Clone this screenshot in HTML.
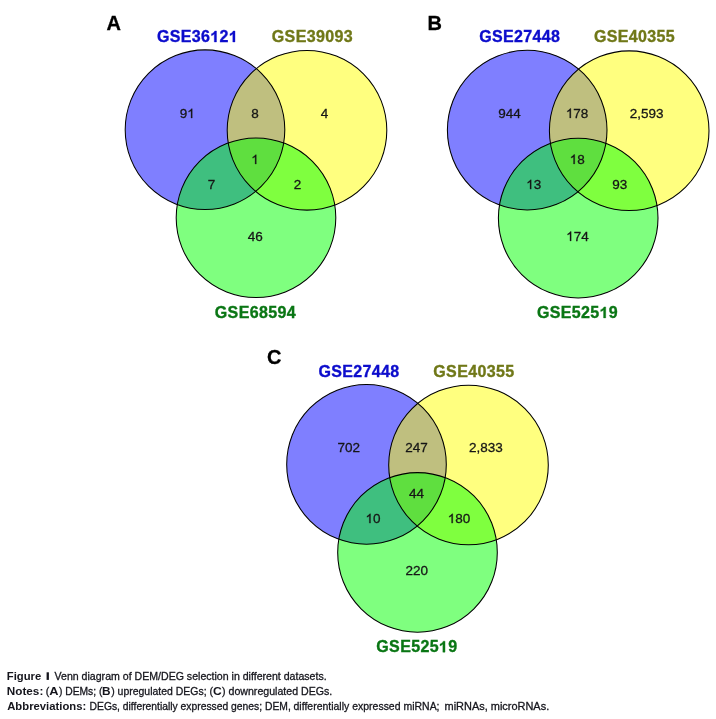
<!DOCTYPE html>
<html><head><meta charset="utf-8">
<style>
html,body{margin:0;padding:0;background:#fff;}
body{width:716px;height:719px;overflow:hidden;position:relative;}
svg{position:absolute;left:0;top:0;will-change:transform;}
text{font-family:"Liberation Sans",sans-serif;}
.n{letter-spacing:0.0px;font-size:13.5px;fill:#161616;stroke:#161616;stroke-width:0.3px;text-anchor:middle;}
.l{font-size:16px;font-weight:bold;text-anchor:middle;stroke-width:0.35px;letter-spacing:0.35px;}
.let{font-size:20px;font-weight:bold;fill:#000;stroke:#000;stroke-width:0.3px;}
.cr,.cb{font-size:11px;fill:#15151c;}
.cr{stroke:#15151c;stroke-width:0.3px;}
.cb{font-weight:bold;}
</style></head><body>
<svg width="716" height="719" viewBox="0 0 716 719">
<circle cx="205" cy="129.7" r="79.8" fill="#0000ff" fill-opacity="0.5"/>
<circle cx="307" cy="130.3" r="79.8" fill="#ffff00" fill-opacity="0.5"/>
<circle cx="256" cy="217.7" r="79.8" fill="#00ff00" fill-opacity="0.5"/>
<circle cx="205" cy="129.7" r="79.8" fill="none" stroke="#000" stroke-width="1.05"/>
<circle cx="307" cy="130.3" r="79.8" fill="none" stroke="#000" stroke-width="1.05"/>
<circle cx="256" cy="217.7" r="79.8" fill="none" stroke="#000" stroke-width="1.05"/>
<text x="187.2" y="118" class="n">9 </text>
<path d="M763 0H583V1098Q518 1038 412.5 979T223 890V1057Q373 1125 485.5 1221T645 1409H763Z" transform="translate(187.2 118) scale(0.00659 -0.00659)" fill="#161616" stroke="#161616" stroke-width="45.51"/>
<text x="254.9" y="118" class="n">8</text>
<text x="324.5" y="118" class="n">4</text>
<text x="255" y="164" class="n"> </text>
<path d="M763 0H583V1098Q518 1038 412.5 979T223 890V1057Q373 1125 485.5 1221T645 1409H763Z" transform="translate(251.25 164) scale(0.00659 -0.00659)" fill="#161616" stroke="#161616" stroke-width="45.51"/>
<text x="211.5" y="189.2" class="n">7</text>
<text x="297.5" y="189.2" class="n">2</text>
<text x="255.2" y="241" class="n">46</text>
<text x="197.58" y="42" class="l" fill="#0c0ccc" stroke="#0c0ccc">GSE36 2 </text>
<path d="M806 0H526V1014Q372 876 163 809V1053Q273 1088 402 1184T579 1409H806Z" transform="translate(210.2 42) scale(0.00781 -0.00781)" fill="#0c0ccc" stroke="#0c0ccc" stroke-width="44.8"/>
<path d="M806 0H526V1014Q372 876 163 809V1053Q273 1088 402 1184T579 1409H806Z" transform="translate(228.69 42) scale(0.00781 -0.00781)" fill="#0c0ccc" stroke="#0c0ccc" stroke-width="44.8"/>
<text x="312.38" y="41.7" class="l" fill="#707818" stroke="#707818">GSE39093</text>
<text x="255.38" y="317.5" class="l" fill="#0a7614" stroke="#0a7614">GSE68594</text>
<text x="106.5" y="30" class="let">A</text>
<circle cx="527.2" cy="130.1" r="79.8" fill="#0000ff" fill-opacity="0.5"/>
<circle cx="629.2" cy="130.7" r="79.8" fill="#ffff00" fill-opacity="0.5"/>
<circle cx="578.2" cy="218.1" r="79.8" fill="#00ff00" fill-opacity="0.5"/>
<circle cx="527.2" cy="130.1" r="79.8" fill="none" stroke="#000" stroke-width="1.05"/>
<circle cx="629.2" cy="130.7" r="79.8" fill="none" stroke="#000" stroke-width="1.05"/>
<circle cx="578.2" cy="218.1" r="79.8" fill="none" stroke="#000" stroke-width="1.05"/>
<text x="509.4" y="117.9" class="n">944</text>
<text x="577.1" y="117.9" class="n"> 78</text>
<path d="M763 0H583V1098Q518 1038 412.5 979T223 890V1057Q373 1125 485.5 1221T645 1409H763Z" transform="translate(565.84 117.9) scale(0.00659 -0.00659)" fill="#161616" stroke="#161616" stroke-width="45.51"/>
<text x="646.7" y="117.9" class="n">2,593</text>
<text x="577.2" y="163.9" class="n"> 8</text>
<path d="M763 0H583V1098Q518 1038 412.5 979T223 890V1057Q373 1125 485.5 1221T645 1409H763Z" transform="translate(569.69 163.9) scale(0.00659 -0.00659)" fill="#161616" stroke="#161616" stroke-width="45.51"/>
<text x="533.7" y="189.1" class="n"> 3</text>
<path d="M763 0H583V1098Q518 1038 412.5 979T223 890V1057Q373 1125 485.5 1221T645 1409H763Z" transform="translate(526.19 189.1) scale(0.00659 -0.00659)" fill="#161616" stroke="#161616" stroke-width="45.51"/>
<text x="619.7" y="189.1" class="n">93</text>
<text x="577.4" y="240.9" class="n"> 74</text>
<path d="M763 0H583V1098Q518 1038 412.5 979T223 890V1057Q373 1125 485.5 1221T645 1409H763Z" transform="translate(566.14 240.9) scale(0.00659 -0.00659)" fill="#161616" stroke="#161616" stroke-width="45.51"/>
<text x="519.77" y="42.4" class="l" fill="#0c0ccc" stroke="#0c0ccc">GSE27448</text>
<text x="634.58" y="42.1" class="l" fill="#707818" stroke="#707818">GSE40355</text>
<text x="577.58" y="317.9" class="l" fill="#0a7614" stroke="#0a7614">GSE525 9</text>
<path d="M806 0H526V1014Q372 876 163 809V1053Q273 1088 402 1184T579 1409H806Z" transform="translate(599.44 317.9) scale(0.00781 -0.00781)" fill="#0a7614" stroke="#0a7614" stroke-width="44.8"/>
<text x="427.6" y="30.4" class="let">B</text>
<circle cx="366.5" cy="464.4" r="79.8" fill="#0000ff" fill-opacity="0.5"/>
<circle cx="468.5" cy="465" r="79.8" fill="#ffff00" fill-opacity="0.5"/>
<circle cx="417.5" cy="552.4" r="79.8" fill="#00ff00" fill-opacity="0.5"/>
<circle cx="366.5" cy="464.4" r="79.8" fill="none" stroke="#000" stroke-width="1.05"/>
<circle cx="468.5" cy="465" r="79.8" fill="none" stroke="#000" stroke-width="1.05"/>
<circle cx="417.5" cy="552.4" r="79.8" fill="none" stroke="#000" stroke-width="1.05"/>
<text x="348.7" y="451.9" class="n">702</text>
<text x="416.4" y="451.9" class="n">247</text>
<text x="486" y="451.9" class="n">2,833</text>
<text x="416.5" y="497.9" class="n">44</text>
<text x="373" y="523.1" class="n"> 0</text>
<path d="M763 0H583V1098Q518 1038 412.5 979T223 890V1057Q373 1125 485.5 1221T645 1409H763Z" transform="translate(365.49 523.1) scale(0.00659 -0.00659)" fill="#161616" stroke="#161616" stroke-width="45.51"/>
<text x="459" y="523.1" class="n"> 80</text>
<path d="M763 0H583V1098Q518 1038 412.5 979T223 890V1057Q373 1125 485.5 1221T645 1409H763Z" transform="translate(447.74 523.1) scale(0.00659 -0.00659)" fill="#161616" stroke="#161616" stroke-width="45.51"/>
<text x="416.7" y="574.9" class="n">220</text>
<text x="359.07" y="377.3" class="l" fill="#0c0ccc" stroke="#0c0ccc">GSE27448</text>
<text x="473.88" y="377" class="l" fill="#707818" stroke="#707818">GSE40355</text>
<text x="416.88" y="652.2" class="l" fill="#0a7614" stroke="#0a7614">GSE525 9</text>
<path d="M806 0H526V1014Q372 876 163 809V1053Q273 1088 402 1184T579 1409H806Z" transform="translate(438.74 652.2) scale(0.00781 -0.00781)" fill="#0a7614" stroke="#0a7614" stroke-width="44.8"/>
<text x="267" y="363.9" class="let">C</text>
<text class="cb" x="6.85" y="680" textLength="34.44" lengthAdjust="spacingAndGlyphs">Figure</text>
<text class="cr" x="54.55" y="680" textLength="272.11" lengthAdjust="spacingAndGlyphs">Venn diagram of DEM/DEG selection in different datasets.</text>
<text class="cb" x="6.81" y="694.8" textLength="36.51" lengthAdjust="spacingAndGlyphs">Notes:</text>
<text class="cr" x="45.75" y="694.8" textLength="3.52" lengthAdjust="spacingAndGlyphs">(</text>
<text class="cb" x="49.18" y="694.8" textLength="9.26" lengthAdjust="spacingAndGlyphs">A</text>
<text class="cr" x="58.94" y="694.8" textLength="43.42" lengthAdjust="spacingAndGlyphs">) DEMs; (</text>
<text class="cb" x="102.11" y="694.8" textLength="8.53" lengthAdjust="spacingAndGlyphs">B</text>
<text class="cr" x="111.24" y="694.8" textLength="101.72" lengthAdjust="spacingAndGlyphs">) upregulated DEGs; (</text>
<text class="cb" x="212.90" y="694.8" textLength="8.73" lengthAdjust="spacingAndGlyphs">C</text>
<text class="cr" x="222.04" y="694.8" textLength="110.23" lengthAdjust="spacingAndGlyphs">) downregulated DEGs.</text>
<text class="cb" x="7.22" y="709.7" textLength="78.97" lengthAdjust="spacingAndGlyphs">Abbreviations:</text>
<text class="cr" x="89.55" y="709.7" textLength="201.27" lengthAdjust="spacingAndGlyphs">DEGs, differentially expressed genes; DEM,</text>
<text class="cr" x="293.56" y="709.7" textLength="145.98" lengthAdjust="spacingAndGlyphs">differentially expressed miRNA;</text>
<text class="cr" x="444.57" y="709.7" textLength="104.63" lengthAdjust="spacingAndGlyphs">miRNAs, microRNAs.</text>
<rect x="46.6" y="672.3" width="2.3" height="7.6" fill="#15151c"/>
</svg>
</body></html>
